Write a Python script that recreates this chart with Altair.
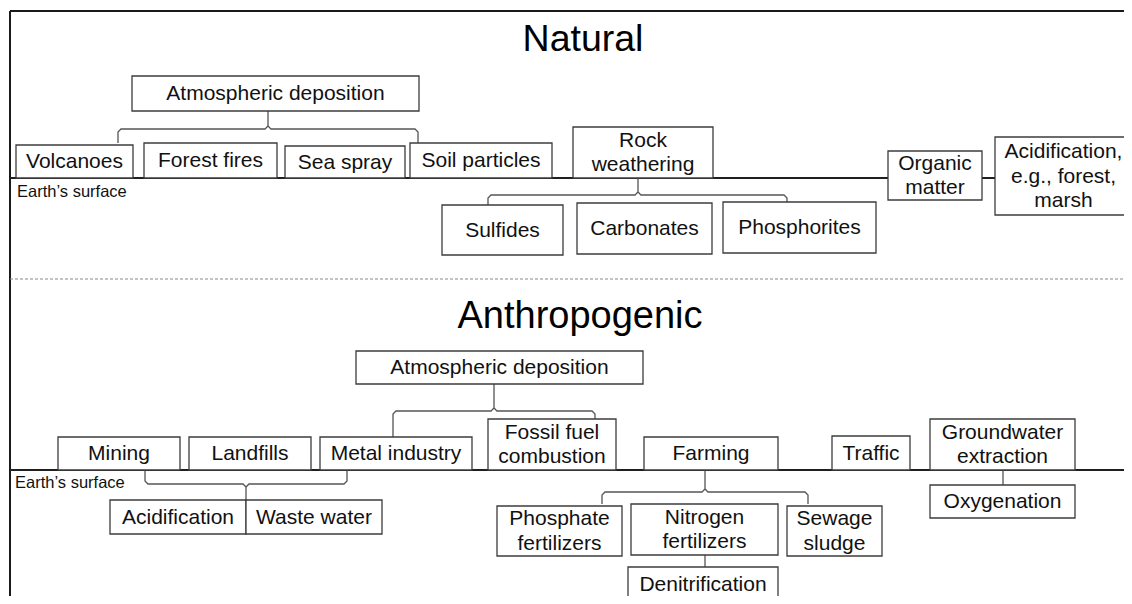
import altair as alt
import pandas as pd

# ---------------- diagram data (image pixel coordinates) ----------------
box_label = [
    "Atmospheric deposition", "Volcanoes", "Forest fires", "Sea spray", "Soil particles",
    "Rock\nweathering", "Sulfides", "Carbonates", "Phosphorites", "Organic\nmatter",
    "Acidification,\ne.g., forest,\nmarsh",
    "Atmospheric deposition", "Mining", "Landfills", "Metal industry", "Fossil fuel\ncombustion",
    "Farming", "Traffic", "Groundwater\nextraction", "Acidification", "Waste water",
    "Phosphate\nfertilizers", "Nitrogen\nfertilizers", "Sewage\nsludge", "Denitrification",
    "Oxygenation",
]
box_x0 = [132, 16, 144, 285, 410, 573, 442, 577, 723, 888, 995,
          356, 58, 189, 320, 488, 644, 832, 930, 110, 246, 497, 631, 787, 628, 930]
box_x1 = [419, 133, 277, 405, 552, 713, 563, 712, 876, 982, 1132,
          643, 180, 311, 472, 616, 778, 910, 1075, 246, 382, 622, 778, 882, 778, 1075]
box_y0 = [76, 145, 143, 146, 143, 127, 205, 203, 202, 151, 137,
          351, 437, 437, 437, 419, 437, 436, 419, 500, 500, 506, 504, 506, 567, 485]
box_y1 = [111, 178, 178, 178, 178, 178, 255, 254, 253, 200, 215,
          384, 470, 470, 470, 470, 470, 470, 470, 534, 534, 556, 555, 556, 601, 518]

# braces: left x, centre x, right x, bar y, left end y, right end y, stub end y
brace_xl = [118, 488, 393, 145, 602]
brace_xc = [268, 638, 494, 246, 705]
brace_xr = [418, 787, 595, 347, 808]
brace_bar = [129, 195, 411, 484, 492]
brace_endl = [143, 205, 437, 470, 504]
brace_endr = [143, 202, 419, 470, 504]
brace_stub = [111, 178, 384, 500, 470]

# straight thin connectors (x0, y0, x1, y1)
conn_x0 = [1003, 705]
conn_y0 = [470, 555]
conn_x1 = [1003, 705]
conn_y1 = [485, 567]

# earth's surface lines (thick)
ground_x0 = [10, 982, 10]
ground_x1 = [888, 995, 1132]
ground_y = [178, 178, 470]

# frame lines
frame_x0 = [10, 10]
frame_y0 = [11, 11]
frame_x1 = [1132, 10]
frame_y1 = [11, 604]

# dashed separator
dash_x0, dash_x1, dash_y = [10], [1132], [279]

title_text = ["Natural", "Anthropogenic"]
title_x = [583, 580]
title_y = [51, 328]
title_size = [37.5, 38]

surface_text = ["Earth\u2019s surface", "Earth\u2019s surface"]
surface_x = [17, 15]
surface_y = [192, 483]

# ---------------- build tables ----------------
LINE_H = 24.5
boxes = pd.DataFrame({"label": box_label, "x0": box_x0, "x1": box_x1,
                      "y0": box_y0, "y1": box_y1})
boxes["cx"] = (boxes.x0 + boxes.x1) / 2
nlines = boxes.label.str.count("\n")
boxes["cy"] = (boxes.y0 + boxes.y1) / 2 - nlines * LINE_H / 2 + 0.5

rows = []
pid = 0
r = 3
for xl, xc, xr, yb, el, er, ys in zip(brace_xl, brace_xc, brace_xr, brace_bar,
                                      brace_endl, brace_endr, brace_stub):
    se = 1 if el > yb else -1
    ss = 1 if ys > yb else -1
    left = [(xl, el), (xl, yb + se * r), (xl + r, yb), (xc - r, yb),
            (xc, yb + ss * r), (xc, ys)]
    right = [(xc, yb + ss * r), (xc + r, yb), (xr - r, yb),
             (xr, yb + se * r), (xr, er)]
    for path in (left, right):
        for i, (px, py) in enumerate(path):
            rows.append({"path": pid, "seq": i, "x": px, "y": py})
        pid += 1
for a, b, c, d in zip(conn_x0, conn_y0, conn_x1, conn_y1):
    rows.append({"path": pid, "seq": 0, "x": a, "y": b})
    rows.append({"path": pid, "seq": 1, "x": c, "y": d})
    pid += 1
thin = pd.DataFrame(rows)

ground = pd.DataFrame({"x0": ground_x0, "x1": ground_x1, "y": ground_y})
frame = pd.DataFrame({"x0": frame_x0, "x1": frame_x1, "y0": frame_y0, "y1": frame_y1})
dash = pd.DataFrame({"x0": dash_x0, "x1": dash_x1, "y": dash_y})
titles = pd.DataFrame({"t": title_text, "x": title_x, "y": title_y, "s": title_size})
surf = pd.DataFrame({"t": surface_text, "x": surface_x, "y": surface_y})

XS = alt.Scale(domain=[8, 1124], nice=False, zero=False)
YS = alt.Scale(domain=[8, 596], nice=False, zero=False, reverse=True)
FONT = "Liberation Sans"

frame_layer = alt.Chart(frame).mark_rule(color="#1a1a1a", strokeWidth=2, clip=True).encode(
    x=alt.X("x0:Q", scale=XS, axis=None), x2="x1:Q",
    y=alt.Y("y0:Q", scale=YS, axis=None), y2="y1:Q")

dash_layer = alt.Chart(dash).mark_rule(color="#8a8a8a", strokeWidth=1.2,
                                       strokeDash=[3, 2], clip=True).encode(
    x=alt.X("x0:Q", scale=XS, axis=None), x2="x1:Q",
    y=alt.Y("y:Q", scale=YS, axis=None))

ground_layer = alt.Chart(ground).mark_rule(color="#1f1f1f", strokeWidth=2, clip=True).encode(
    x=alt.X("x0:Q", scale=XS, axis=None), x2="x1:Q",
    y=alt.Y("y:Q", scale=YS, axis=None))

thin_layer = alt.Chart(thin).mark_line(color="#555555", strokeWidth=1.3, clip=True).encode(
    x=alt.X("x:Q", scale=XS, axis=None),
    y=alt.Y("y:Q", scale=YS, axis=None),
    detail="path:N", order="seq:Q")

box_layer = alt.Chart(boxes).mark_rect(fill="white", stroke="#3c3c3c",
                                       strokeWidth=1.3, clip=True).encode(
    x=alt.X("x0:Q", scale=XS, axis=None), x2="x1:Q",
    y=alt.Y("y0:Q", scale=YS, axis=None), y2="y1:Q")

text_layer = alt.Chart(boxes).mark_text(font=FONT, fontSize=21, color="#111111",
                                        lineBreak="\n", lineHeight=LINE_H,
                                        baseline="middle", align="center").encode(
    x=alt.X("cx:Q", scale=XS, axis=None),
    y=alt.Y("cy:Q", scale=YS, axis=None),
    text="label:N")

title_layer = alt.Chart(titles).mark_text(font=FONT, color="#000000",
                                          baseline="alphabetic", align="center").encode(
    x=alt.X("x:Q", scale=XS, axis=None),
    y=alt.Y("y:Q", scale=YS, axis=None),
    text="t:N",
    size=alt.Size("s:Q", scale=None, legend=None))

surf_layer = alt.Chart(surf).mark_text(font=FONT, fontSize=16.5, color="#111111",
                                       baseline="middle", align="left").encode(
    x=alt.X("x:Q", scale=XS, axis=None),
    y=alt.Y("y:Q", scale=YS, axis=None),
    text="t:N")

chart = alt.layer(
    frame_layer, dash_layer, ground_layer, thin_layer, box_layer,
    text_layer, title_layer, surf_layer
).properties(
    width=1116, height=588, padding=0,
    autosize=alt.AutoSizeParams(type="fit", contains="padding"),
).configure_view(stroke=None)

chart.save("out.html", embed_options={"renderer": "svg", "actions": False})
